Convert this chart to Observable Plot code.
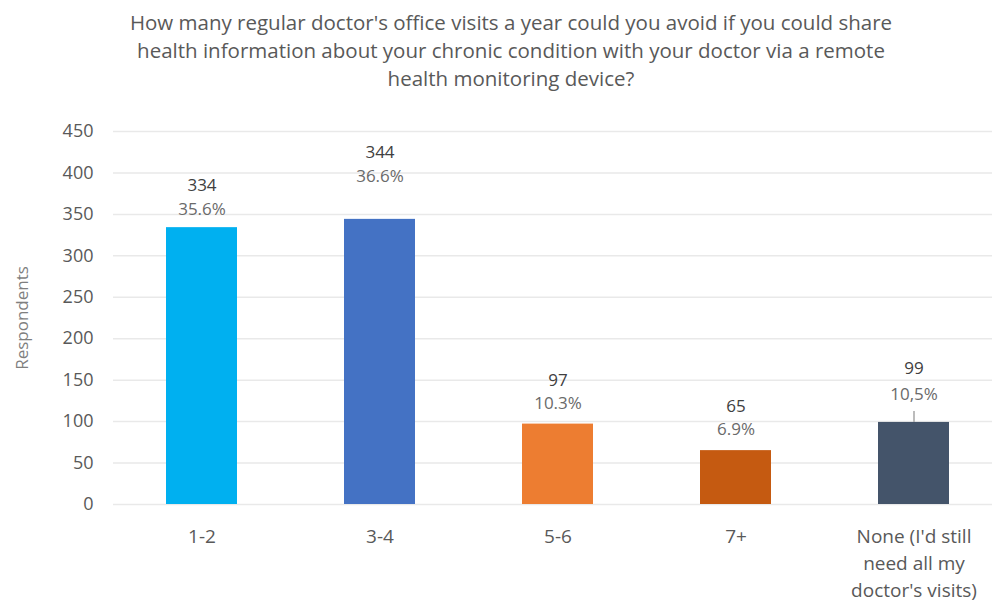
<!DOCTYPE html>
<html>
<head>
<meta charset="utf-8">
<script src="https://cdn.jsdelivr.net/npm/d3@7"></script>
<script src="https://cdn.jsdelivr.net/npm/@observablehq/plot@0.6"></script>
<style>
  body { margin: 0; background: #fff; font-family: "Open Sans", sans-serif; }
  #title { width: 992px; height: 110px; box-sizing: border-box; padding: 8px 0 0 30px; text-align: center;
    font-size: 20.5px; line-height: 28px; color: #595959; }
  #chart svg { display: block; }
</style>
</head>
<body>
<div id="title">How many regular doctor's office visits a year could you avoid if you could share<br>health information about your chronic condition with your doctor via a remote<br>health monitoring device?</div>
<div id="chart"></div>
<script>
const categories = ["1-2", "3-4", "5-6", "7+", "None (I'd still need all my doctor's visits)"];
const categoryLines = ["1-2", "3-4", "5-6", "7+", "None (I'd still\nneed all my\ndoctor's visits)"];
const respondents = [334, 344, 97, 65, 99];
const shareLabels = ["35.6%", "36.6%", "10.3%", "6.9%", "10,5%"];
const yTicks = [0, 50, 100, 150, 200, 250, 300, 350, 400, 450];
const palette = ["#00B0F0", "#4472C4", "#ED7D31", "#C55A11", "#44546A"];

// label placement (pixels above bar top) as in the reference
const countOffset = [-42, -67, -44, -44, -54];
const shareOffset = [-18, -43, -21, -21, -28];

const data = categories.map((c, i) => ({cat: c, val: respondents[i], share: shareLabels[i], lines: categoryLines[i]}));

const font = "Open Sans, sans-serif";
const chart = Plot.plot({
  width: 992,
  height: 492,
  marginTop: 21,
  marginBottom: 98,
  marginLeft: 113,
  marginRight: 0,
  style: {fontFamily: font, background: "#fff"},
  x: {domain: categories, range: [113, 1003], paddingInner: 0.6, paddingOuter: 0.3, axis: null},
  y: {domain: [0, 450], axis: null},
  color: {domain: categories, range: palette},
  marks: [
    Plot.ruleY(yTicks, {stroke: "#e9e9e9", strokeWidth: 1.5}),
    Plot.barY(data, {x: "cat", y: "val", fill: "cat"}),
    Plot.axisY({ticks: yTicks, tickSize: 0, tickPadding: 20, fontSize: 18, color: "#595959", label: null}),
    Plot.text(["Respondents"], {frameAnchor: "left", textAnchor: "middle", dx: -91, rotate: -90, fontSize: 17, fill: "#7f7f7f"}),
    Plot.text(data, {x: "cat", frameAnchor: "bottom", text: "lines", dy: 20, lineAnchor: "top", lineHeight: 1.4, fontSize: 19, fill: "#595959"}),
    Plot.ruleX(data.filter(d => d.share === "10,5%"), {x: "cat", y1: "val", y2: "val", insetTop: -11, stroke: "#a6a6a6", strokeWidth: 1.5}),
    ...data.map((d, i) => Plot.text([d], {x: "cat", y: "val", text: "val", dy: countOffset[i], fontSize: 17, fill: "#404040"})),
    ...data.map((d, i) => Plot.text([d], {x: "cat", y: "val", text: "share", dy: shareOffset[i], fontSize: 17, fill: "#6a6a6a"}))
  ]
});
document.getElementById("chart").append(chart);
</script>
</body>
</html>
